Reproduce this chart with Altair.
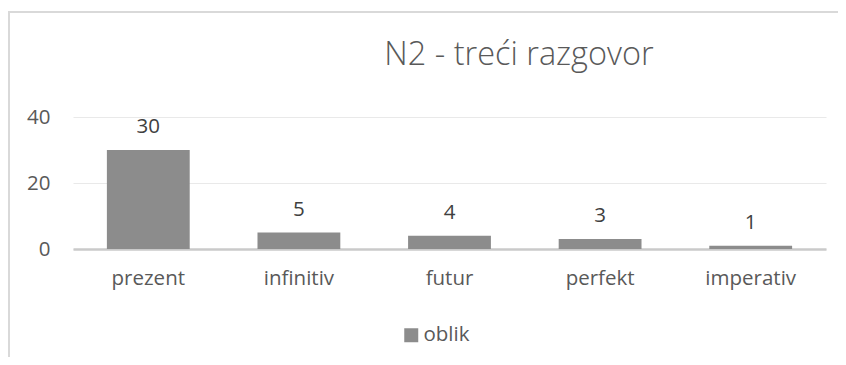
import altair as alt
import pandas as pd

categories = ["prezent", "infinitiv", "futur", "perfekt", "imperativ"]
values = [30, 5, 4, 3, 1]
series_name = "oblik"
y_ticks = [0, 20, 40]
title_text = "N2 - treći razgovor"

df = pd.DataFrame({"kategorija": categories, "vrijednost": values,
                   "serija": [series_name] * len(categories)})

FONT = "Open Sans"
TXT = "#595959"
BAR = "#8c8c8c"
FS = 20.5

base = alt.Chart(df)

bars = base.mark_bar().encode(
    x=alt.X("kategorija:N", sort=categories, title=None,
            scale=alt.Scale(paddingInner=0.45, paddingOuter=0.225),
            axis=alt.Axis(labelAngle=0, labelFontSize=FS, labelColor=TXT, labelFont=FONT,
                          labelPadding=19, ticks=False, domainColor="#cacaca",
                          domainWidth=2.5, grid=False)),
    y=alt.Y("vrijednost:Q", title=None, scale=alt.Scale(domain=[0, 40], nice=False),
            axis=alt.Axis(values=y_ticks, ticks=False, domain=False, labelFontSize=FS,
                          labelColor=TXT, labelFont=FONT, labelPadding=23,
                          gridColor="#e9e9e9", gridWidth=1)),
    color=alt.Color("serija:N", scale=alt.Scale(range=[BAR]),
                    legend=alt.Legend(title=None, orient="none", legendX=328, legendY=208,
                                      symbolType="square", symbolSize=196,
                                      labelFontSize=FS, labelColor=TXT, labelFont=FONT,
                                      labelOffset=2, padding=0, symbolStrokeWidth=0)),
)

labels = base.mark_text(baseline="alphabetic", dy=-17, fontSize=FS, font=FONT,
                        color="#404040").encode(
    x=alt.X("kategorija:N", sort=categories),
    y=alt.Y("vrijednost:Q"),
    text=alt.Text("vrijednost:Q"),
)

title = alt.Chart(alt.Data(values=[{"t": title_text}])).mark_text(
    baseline="alphabetic", align="center", fontSize=32.5, font=FONT, fontWeight=300,
    color=TXT).encode(x=alt.value(446), y=alt.value(-52), text="t:N")

frame = alt.Chart(alt.Data(values=[{}])).mark_rect(
    fill="white", fillOpacity=0, stroke="#d9d9d9", strokeWidth=2).encode(
    x=alt.value(-64), x2=alt.value(900), y=alt.value(-105), y2=alt.value(500))

chart = alt.layer(frame, bars, labels, title).properties(
    width=753, height=132,
    autosize=alt.AutoSizeParams(type="none"),
    padding={"left": 65, "top": 109, "right": 12, "bottom": 108},
).configure_view(stroke=None)

chart.save("out.html", embed_options={"renderer": "svg", "actions": False})
